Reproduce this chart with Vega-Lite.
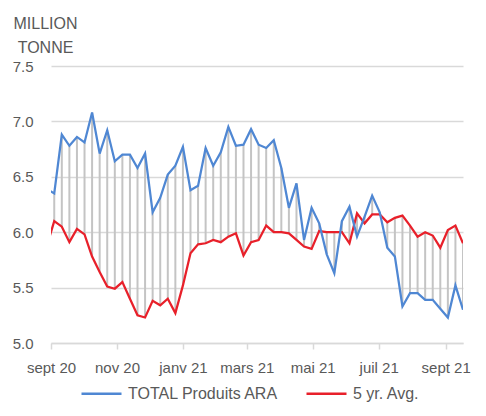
{
  "$schema": "https://vega.github.io/schema/vega-lite/v6.json",
  "width": 412,
  "height": 277,
  "autosize": {"type": "none"},
  "padding": {"left": 51, "top": 66, "right": 23, "bottom": 73},
  "background": "white",
  "config": {
    "view": {"stroke": null},
    "font": "Liberation Sans",
    "axis": {"labelColor": "#595959", "labelFontSize": 15, "titleColor": "#595959", "labelFont": "Liberation Sans", "titleFont": "Liberation Sans"},
    "legend": {"labelColor": "#595959", "labelFontSize": 16, "labelFont": "Liberation Sans"}
  },
  "data": {
    "values": [
      {"date": "2020-08-28", "total": 6.39, "avg": 5.87},
      {"date": "2020-09-04", "total": 6.35, "avg": 6.10},
      {"date": "2020-09-11", "total": 6.88, "avg": 6.05},
      {"date": "2020-09-18", "total": 6.78, "avg": 5.91},
      {"date": "2020-09-25", "total": 6.86, "avg": 6.03},
      {"date": "2020-10-02", "total": 6.81, "avg": 5.98},
      {"date": "2020-10-09", "total": 7.08, "avg": 5.78},
      {"date": "2020-10-16", "total": 6.71, "avg": 5.64},
      {"date": "2020-10-23", "total": 6.92, "avg": 5.51},
      {"date": "2020-10-30", "total": 6.64, "avg": 5.49},
      {"date": "2020-11-06", "total": 6.70, "avg": 5.55},
      {"date": "2020-11-13", "total": 6.70, "avg": 5.40},
      {"date": "2020-11-20", "total": 6.58, "avg": 5.25},
      {"date": "2020-11-27", "total": 6.71, "avg": 5.23},
      {"date": "2020-12-04", "total": 6.18, "avg": 5.38},
      {"date": "2020-12-11", "total": 6.31, "avg": 5.34},
      {"date": "2020-12-18", "total": 6.52, "avg": 5.40},
      {"date": "2020-12-25", "total": 6.60, "avg": 5.27},
      {"date": "2021-01-01", "total": 6.77, "avg": 5.52},
      {"date": "2021-01-08", "total": 6.38, "avg": 5.81},
      {"date": "2021-01-15", "total": 6.42, "avg": 5.89},
      {"date": "2021-01-22", "total": 6.76, "avg": 5.90},
      {"date": "2021-01-29", "total": 6.60, "avg": 5.93},
      {"date": "2021-02-05", "total": 6.72, "avg": 5.91},
      {"date": "2021-02-12", "total": 6.95, "avg": 5.96},
      {"date": "2021-02-19", "total": 6.78, "avg": 5.99},
      {"date": "2021-02-26", "total": 6.79, "avg": 5.79},
      {"date": "2021-03-05", "total": 6.93, "avg": 5.91},
      {"date": "2021-03-12", "total": 6.79, "avg": 5.93},
      {"date": "2021-03-19", "total": 6.76, "avg": 6.06},
      {"date": "2021-03-26", "total": 6.83, "avg": 6.00},
      {"date": "2021-04-02", "total": 6.58, "avg": 6.00},
      {"date": "2021-04-09", "total": 6.22, "avg": 5.99},
      {"date": "2021-04-16", "total": 6.44, "avg": 5.93},
      {"date": "2021-04-23", "total": 5.93, "avg": 5.87},
      {"date": "2021-04-30", "total": 6.22, "avg": 5.85},
      {"date": "2021-05-07", "total": 6.08, "avg": 6.01},
      {"date": "2021-05-14", "total": 5.80, "avg": 6.00},
      {"date": "2021-05-21", "total": 5.63, "avg": 6.00},
      {"date": "2021-05-28", "total": 6.10, "avg": 6.00},
      {"date": "2021-06-04", "total": 6.23, "avg": 5.90},
      {"date": "2021-06-11", "total": 5.96, "avg": 6.17},
      {"date": "2021-06-18", "total": 6.14, "avg": 6.08},
      {"date": "2021-06-25", "total": 6.33, "avg": 6.16},
      {"date": "2021-07-02", "total": 6.18, "avg": 6.16},
      {"date": "2021-07-09", "total": 5.86, "avg": 6.09},
      {"date": "2021-07-16", "total": 5.78, "avg": 6.13},
      {"date": "2021-07-23", "total": 5.33, "avg": 6.15},
      {"date": "2021-07-30", "total": 5.45, "avg": 6.06},
      {"date": "2021-08-06", "total": 5.45, "avg": 5.96},
      {"date": "2021-08-13", "total": 5.39, "avg": 6.00},
      {"date": "2021-08-20", "total": 5.39, "avg": 5.97},
      {"date": "2021-08-27", "total": 5.31, "avg": 5.86},
      {"date": "2021-09-03", "total": 5.23, "avg": 6.02},
      {"date": "2021-09-10", "total": 5.52, "avg": 6.06},
      {"date": "2021-09-17", "total": 5.30, "avg": 5.90}
    ],
    "format": {"parse": {"date": "date:'%Y-%m-%d'"}}
  },
  "encoding": {
    "x": {
      "field": "date",
      "type": "temporal",
      "scale": {"domain": [{"year": 2020, "month": 9, "date": 1}, {"year": 2021, "month": 9, "date": 17}]},
      "axis": {
        "title": null,
        "grid": false,
        "domainColor": "#d9d9d9",
        "domainWidth": 1.5,
        "tickColor": "#d9d9d9",
        "tickWidth": 1.5,
        "tickSize": 6,
        "labelPadding": 11,
        "values": [
          {"year": 2020, "month": 9, "date": 1},
          {"year": 2020, "month": 11, "date": 1},
          {"year": 2021, "month": 1, "date": 1},
          {"year": 2021, "month": 3, "date": 1},
          {"year": 2021, "month": 5, "date": 1},
          {"year": 2021, "month": 7, "date": 1},
          {"year": 2021, "month": 9, "date": 1}
        ],
        "labelExpr": "['janv','févr','mars','avr','mai','juin','juil','août','sept','oct','nov','déc'][month(datum.value)] + ' ' + timeFormat(datum.value, '%y')",
        "labelFlush": false,
        "labelOverlap": false
      }
    }
  },
  "layer": [
    {
      "mark": {"type": "rule", "color": "#c4c4c4", "strokeWidth": 2, "clip": true},
      "encoding": {
        "y": {
          "field": "total",
          "type": "quantitative",
          "scale": {"domain": [5, 7.5], "nice": false, "zero": false},
          "axis": {
            "title": ["MILLION", "TONNE"],
            "titleAngle": 0,
            "titleAlign": "center",
            "titleBaseline": "alphabetic",
            "titleX": -6,
            "titleY": -38,
            "titleFontSize": 16,
            "titleFontWeight": "normal",
            "titleLineHeight": 24,
            "values": [5, 5.5, 6, 6.5, 7, 7.5],
            "format": ".1f",
            "domain": false,
            "ticks": false,
            "labelPadding": 18,
            "gridColor": "#d9d9d9",
            "gridWidth": 1.5
          }
        },
        "y2": {"field": "avg"}
      }
    },
    {
      "mark": {"type": "line", "strokeWidth": 2.25, "clip": true},
      "encoding": {
        "y": {"field": "avg", "type": "quantitative"},
        "color": {
          "datum": "5 yr. Avg.",
          "type": "nominal",
          "scale": {"domain": ["TOTAL Produits ARA", "5 yr. Avg."], "range": ["#4f87d3", "#e8202a"]},
          "legend": {
            "title": null,
            "orient": "none",
            "direction": "horizontal",
            "legendX": 29,
            "legendY": 306,
            "symbolType": "stroke",
            "symbolSize": 1600,
            "symbolStrokeWidth": 2.5,
            "labelOffset": 5,
            "columnPadding": 22
          }
        }
      }
    },
    {
      "mark": {"type": "line", "strokeWidth": 2.25, "clip": true},
      "encoding": {
        "y": {"field": "total", "type": "quantitative"},
        "color": {"datum": "TOTAL Produits ARA", "type": "nominal"}
      }
    }
  ]
}
